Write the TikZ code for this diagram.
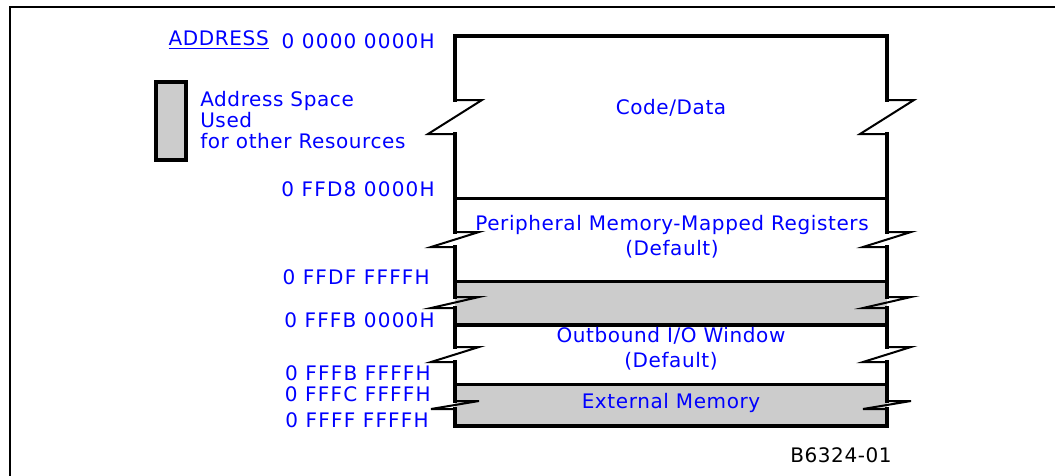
\documentclass[tikz,border=0pt]{standalone}
\usepackage{fontspec}
\setmainfont{DejaVu Sans}[LetterSpace=3]
\usepackage{xcolor}

\begin{document}
\begin{tikzpicture}[x=0.75pt,y=0.75pt,yscale=-1,xscale=1,
  lbl/.style={text=blue, font=\fontsize{15}{18.75}\selectfont, inner sep=0pt},
  addr/.style={lbl, anchor=east, font=\fontsize{15}{18.75}\selectfont\addfontfeatures{LetterSpace=6}},
  edge/.style={line width=3pt, line cap=rect},
  brk/.style={line width=1.5pt, line join=miter}]
\useasboundingbox (0,0) rectangle (1055,475);
%frame round the figure
\draw [line width=1.5pt] (10,7) rectangle (1090,500) ;

%shaded bands
\fill [black!20] (455,281) rectangle (887,325) ;
\fill [black!20] (455,384) rectangle (887,426) ;

%horizontal lines of the map
\draw [edge] (455,36) -- (887,36) ;
\draw [line width=2.25pt] (455,198) -- (887,198) ;
\draw [line width=2.25pt] (455,281) -- (887,281) ;
\draw [edge] (455,325) -- (887,325) ;
\draw [line width=2.25pt] (455,384) -- (887,384) ;
\draw [edge] (455,426) -- (887,426) ;

%side walls, broken at each zigzag
\foreach \ya/\yb in {36/100, 134/232, 247/297, 308/347, 362/401, 409/426}{
  \draw [edge] (455,\ya) -- (455,\yb) ;
  \draw [edge] (887,\ya) -- (887,\yb) ;
}
\foreach \ya/\yb/\d in {100/134/27, 232/247/24, 297/308/24, 347/362/24, 401/409/24}{
  \draw [brk] (455,\ya) -- ++(\d,0) -- (455-\d,\yb) -- (455,\yb) ;
  \draw [brk] (887,\ya) -- ++(\d,0) -- (887-\d,\yb) -- (887,\yb) ;
}

%legend
\draw [line width=3pt, fill=black!20] (156,82) rectangle (186,160) ;
\node (legend) [lbl, anchor=west, align=left, font=\fontsize{15}{16}\selectfont] at (200,120) {Address Space\\Used\\for other Resources};

%addresses
\node (hdr) [lbl, anchor=east] at (269,40) {\underline{ADDRESS}};
\node (a0) [addr] at (435,41) {0 0000 0000H};
\node (a1) [addr] at (435,189) {0 FFD8 0000H};
\node (a2) [addr] at (430,277) {0 FFDF FFFFH};
\node (a3) [addr] at (435,320) {0 FFFB 0000H};
\node (a4) [addr] at (431,373) {0 FFFB FFFFH};
\node (a5) [addr] at (431,394) {0 FFFC FFFFH};
\node (a6) [addr] at (429,420) {0 FFFF FFFFH};

%regions
\node (code) [lbl] at (671,108) {Code/Data};
\node (pmmr) [lbl, align=center] at (672,237) {Peripheral Memory-Mapped Registers\\(Default)};
\node (obio) [lbl, align=center] at (671,349) {Outbound I/O Window\\(Default)};
\node (extm) [lbl] at (671,403) {External Memory};

\node (fig) [lbl, text=black] at (841,455) {B6324-01};

\end{tikzpicture}
\end{document}
